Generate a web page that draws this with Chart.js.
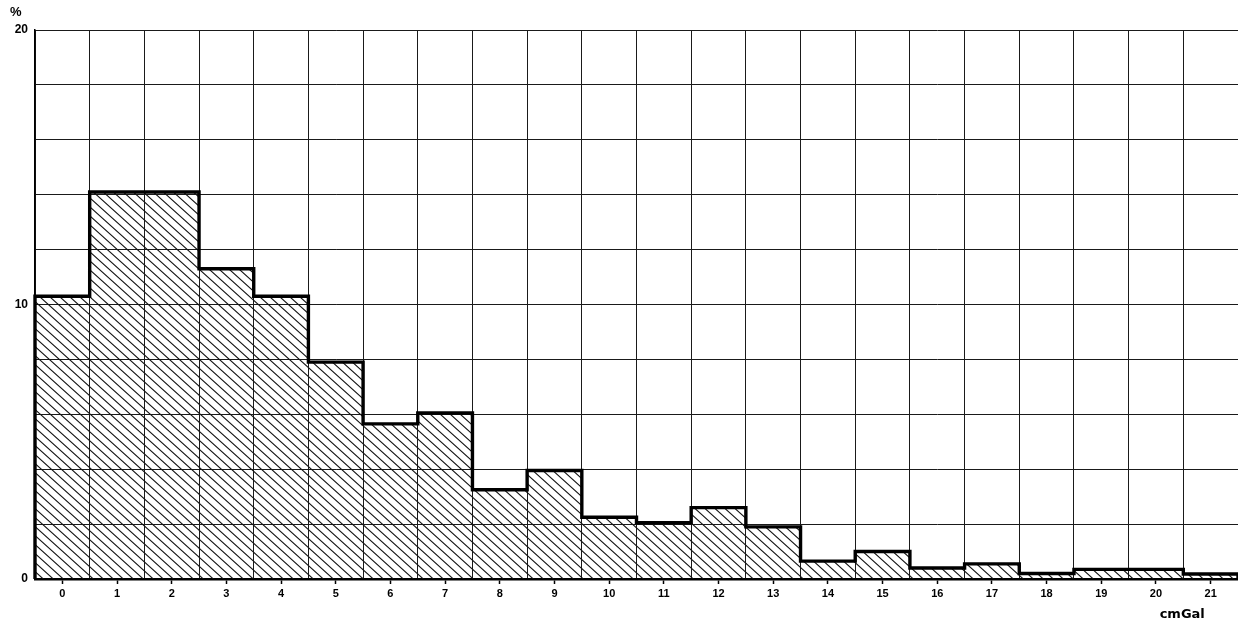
<!DOCTYPE html>
<html><head><meta charset="utf-8">
<script src="https://cdn.jsdelivr.net/npm/chart.js@4"></script>
<style>html,body{margin:0;padding:0;background:#fff;overflow:hidden}#wrap{width:1241px;height:626px;position:relative}</style>
</head><body><div id="wrap"><canvas id="c"></canvas></div>
<script>
const categories = [0,1,2,3,4,5,6,7,8,9,10,11,12,13,14,15,16,17,18,19,20,21];
const percentValues = [10.3,14.1,14.1,11.3,10.3,7.9,5.65,6.05,3.25,3.95,2.25,2.05,2.6,1.9,0.65,1.0,0.4,0.55,0.2,0.35,0.35,0.18];
const yTickLabels = [0,10,20];
const yUnit = '%';
const xUnit = 'cmGal';

function makeHatch(){
  const W=10,H=9,c=document.createElement('canvas');c.width=W;c.height=H;
  const g=c.getContext('2d');g.strokeStyle='#151515';g.lineWidth=1.1;
  g.beginPath();
  for(const k of [-1,0,1]){g.moveTo(k*W-W,-H);g.lineTo(k*W+2*W,2*H);}
  g.stroke();
  return g.createPattern(c,'repeat');
}
const ctx0=document.getElementById('c').getContext('2d');
const hatch=makeHatch();

const barPoints = categories.map((c,i)=>({x:c,y:percentValues[i]}));
const stepPoints = [{x:categories[0]-0.5,y:0}];
categories.forEach((c,i)=>{stepPoints.push({x:c-0.5,y:percentValues[i]});stepPoints.push({x:c+0.5,y:percentValues[i]});});
stepPoints.push({x:categories[categories.length-1]+0.5,y:0});

const xTicks=[];
for(let v=categories[0]-0.5; v<=categories[categories.length-1]+0.5+1e-9; v+=0.5) xTicks.push(v);
const isInt=v=>typeof v==='number' && Math.abs(v-Math.round(v))<1e-6;
const tv=ctx=>(ctx && ctx.tick)?ctx.tick.value:null;

const unitPlugin={id:'units',afterDraw(chart){
  const c=chart.ctx, y=chart.scales.y, x=chart.scales.x;
  c.save();c.fillStyle='#000';c.font='bold 13px "Liberation Sans", Arial, sans-serif';
  c.textAlign='left';c.textBaseline='middle';
  c.fillText(yUnit,10,y.getPixelForValue(20)-18);
  c.font='600 13px "DejaVu Sans", Arial, sans-serif';
  c.textAlign='center';c.textBaseline='middle';
  c.fillText(xUnit,x.getPixelForValue(20.48),615);
  c.restore();
}};

new Chart(ctx0,{
  data:{datasets:[
    {type:'bar',data:barPoints,backgroundColor:hatch,borderWidth:0,barThickness:'flex',barPercentage:1,categoryPercentage:1,order:2},
    {type:'line',data:stepPoints,borderColor:'#000',borderWidth:3.4,pointRadius:0,fill:false,tension:0,clip:false,borderJoinStyle:'miter',order:1}
  ]},
  options:{
    responsive:true,maintainAspectRatio:false,animation:false,
    layout:{padding:{top:30,left:0,right:0,bottom:0}},
    plugins:{legend:{display:false},tooltip:{enabled:false}},
    scales:{
      x:{type:'linear',offset:false,min:categories[0]-0.5,max:categories[categories.length-1]+0.5,
        afterBuildTicks:s=>{s.ticks=xTicks.map(v=>({value:v}));},
        afterFit:s=>{s.height=47;},
        grid:{offset:false,color:ctx=>isInt(tv(ctx))?'rgba(0,0,0,0)':'#1a1a1a',lineWidth:1,
          tickColor:ctx=>isInt(tv(ctx))?'#000':'rgba(0,0,0,0)',tickLength:5,tickWidth:1.5},
        border:{color:'#000',width:2.5},
        ticks:{autoSkip:false,maxRotation:0,padding:3,color:'#000',
          font:{family:'"Liberation Sans", Arial, sans-serif',size:11,weight:'bold'},
          callback:v=>isInt(v)?String(Math.round(v)):''}
      },
      y:{min:0,max:20,
        afterBuildTicks:s=>{const t=[];for(let v=0;v<=20;v+=2)t.push({value:v});s.ticks=t;},
        afterFit:s=>{s.width=35;},
        grid:{color:'#1a1a1a',lineWidth:1,drawTicks:false},
        border:{color:'#000',width:1.5},
        ticks:{autoSkip:false,padding:7,color:'#000',
          font:{family:'"Liberation Sans", Arial, sans-serif',size:12,weight:'bold'},
          callback:v=>yTickLabels.includes(v)?String(v):''}
      }
    }
  },
  plugins:[unitPlugin]
});
</script></body></html>
